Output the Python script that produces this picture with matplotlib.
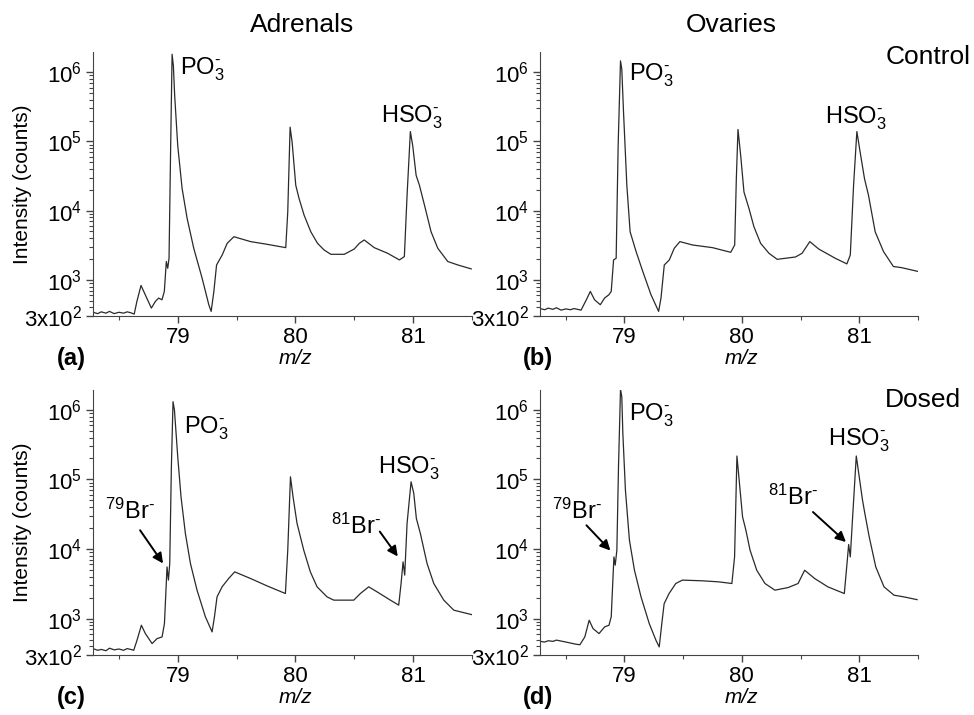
import matplotlib
matplotlib.use("Agg")
import matplotlib.pyplot as plt
from matplotlib.ticker import FixedLocator, LogLocator, NullFormatter, MultipleLocator

plt.rcParams["font.family"] = ["Liberation Sans", "DejaVu Sans"]
plt.rcParams["mathtext.default"] = "regular"

# spectra: m/z and intensity (counts)
mz_adrenal_ctrl = [78.28, 78.32, 78.35, 78.39, 78.42, 78.46, 78.50, 78.54, 78.57, 78.60, 78.63,
                   78.653, 78.688, 78.724, 78.776,
                   78.810, 78.838, 78.866, 78.886, 78.903, 78.915, 78.926, 78.940, 78.952, 78.963,
                   78.974, 79.000, 79.037, 79.080, 79.136, 79.207, 79.264, 79.284, 79.307, 79.330,
                   79.378, 79.420, 79.477, 79.619, 79.761, 79.918, 79.935, 79.955, 79.972, 80.003,
                   80.031, 80.074, 80.131, 80.188, 80.244, 80.301, 80.415, 80.500, 80.543, 80.585,
                   80.670, 80.784, 80.884, 80.926, 80.949, 80.977, 80.997, 81.026, 81.054, 81.097,
                   81.153, 81.210, 81.295, 81.381, 81.494]
counts_adrenal_ctrl = [340, 325, 345, 330, 350, 325, 340, 330, 345, 335, 320,
                       488, 830, 608, 391,
                       488, 545, 515, 680, 1840, 1470, 2050, 87000, 1.82e6, 1.24e6,
                       4.6e5, 8.7e4, 2.1e4, 7700, 2860, 1060, 437, 350, 680, 1640,
                       2290, 3370, 4200, 3570, 3260, 2920, 9600, 1.61e5, 9.8e4, 2.33e4,
                       1.5e4, 8600, 4950, 3370, 2700, 2340, 2340, 2790, 3370, 3770,
                       2920, 2420, 1940, 2170, 1.66e4, 1.39e5, 8.7e4, 3.24e4, 2.33e4, 1.2e4,
                       4950, 2860, 1840, 1640, 1440]

mz_ovary_ctrl = [78.28, 78.32, 78.35, 78.39, 78.42, 78.46, 78.50, 78.54, 78.57, 78.60, 78.63,
                 78.675, 78.709, 78.745, 78.794,
                 78.830, 78.867, 78.887, 78.907, 78.929, 78.946, 78.966, 78.977, 78.992, 79.020,
                 79.048, 79.099, 79.156, 79.226, 79.291, 79.311, 79.339, 79.382, 79.424, 79.472,
                 79.580, 79.750, 79.905, 79.939, 79.953, 79.967, 79.990, 80.018, 80.061, 80.103,
                 80.160, 80.231, 80.301, 80.457, 80.513, 80.579, 80.655, 80.796, 80.895, 80.924,
                 80.952, 80.980, 81.008, 81.045, 81.079, 81.136, 81.207, 81.291, 81.362, 81.503]
counts_ovary_ctrl = [385, 370, 390, 375, 395, 365, 380, 370, 385, 375, 365,
                     515, 680, 515, 437,
                     545, 608, 680, 1940, 2050, 8.7e4, 1.46e6, 1.11e6, 2.6e5, 2.33e4,
                     4950, 2560, 1320, 608, 350, 545, 1640, 1940, 2860, 3570,
                     3190, 2920, 2500, 3190, 2.9e4, 1.49e5, 6.3e4, 1.86e4, 1.07e4, 5850,
                     3370, 2420, 1980, 2140, 2420, 3570, 2790, 2050, 1700, 2290,
                     2.33e4, 1.39e5, 7.0e4, 2.9e4, 1.67e4, 4950, 2560, 1560, 1500, 1320]

mz_adrenal_dosed = [78.28, 78.32, 78.35, 78.39, 78.42, 78.46, 78.50, 78.54, 78.57, 78.60, 78.626,
                    78.654, 78.691, 78.725, 78.782,
                    78.824, 78.867, 78.887, 78.909, 78.921, 78.932, 78.946, 78.960, 78.972, 78.980,
                    79.000, 79.028, 79.065, 79.108, 79.164, 79.235, 79.292, 79.312, 79.334, 79.377,
                    79.433, 79.484, 79.618, 79.759, 79.915, 79.935, 79.958, 79.980, 80.014, 80.071,
                    80.127, 80.184, 80.269, 80.326, 80.496, 80.552, 80.623, 80.694, 80.807, 80.878,
                    80.898, 80.915, 80.929, 80.949, 80.983, 81.006, 81.028, 81.062, 81.119, 81.176,
                    81.261, 81.346, 81.516]
counts_adrenal_dosed = [370, 350, 360, 345, 375, 355, 365, 350, 370, 360, 350,
                        488, 802, 608, 437,
                        515, 545, 847, 5530, 3570, 6180, 1.52e5, 1.31e6, 9.95e5, 6.4e5,
                        2.12e5, 5.6e4, 1.67e4, 6180, 2560, 1060, 643, 1060, 2050, 2860,
                        3770, 4690, 3770, 2950, 2290, 9600, 1.09e5, 5.6e4, 2.33e4, 9600,
                        4690, 2860, 2050, 1840, 1840, 2290, 2860, 2420, 1840, 1560,
                        3190, 6530, 4210, 2.33e4, 9.25e4, 6.3e4, 2.75e4, 1.67e4, 6180, 3190,
                        1840, 1320, 1120]

mz_ovary_dosed = [78.28, 78.32, 78.35, 78.39, 78.42, 78.46, 78.50, 78.54, 78.58, 78.60, 78.62,
                  78.662, 78.699, 78.732, 78.783,
                  78.831, 78.868, 78.887, 78.910, 78.921, 78.935, 78.949, 78.966, 78.977, 78.986,
                  79.008, 79.042, 79.085, 79.141, 79.211, 79.268, 79.296, 79.318, 79.338, 79.380,
                  79.437, 79.493, 79.662, 79.803, 79.915, 79.938, 79.958, 79.977, 80.006, 80.034,
                  80.070, 80.127, 80.197, 80.282, 80.394, 80.479, 80.535, 80.620, 80.732, 80.873,
                  80.896, 80.910, 80.924, 80.944, 80.975, 81.000, 81.028, 81.048, 81.085, 81.141,
                  81.211, 81.296, 81.380, 81.493]
counts_ovary_dosed = [470, 460, 480, 470, 490, 475, 460, 445, 430, 425, 420,
                      545, 946, 718, 608,
                      759, 802, 1060, 7700, 5850, 9600, 1.52e5, 1.97e6, 1.55e6, 4.6e5,
                      7.0e4, 1.34e4, 4950, 2050, 847, 488, 391, 847, 1640, 2290,
                      3190, 3570, 3490, 3370, 3190, 7700, 2.17e5, 9.8e4, 2.9e4, 1.87e4,
                      9600, 4950, 3190, 2560, 2790, 3190, 4950, 3770, 2860, 2290,
                      6180, 1.16e4, 7700, 2.9e4, 2.17e5, 1.09e5, 5.05e4, 3.24e4, 1.5e4, 5530,
                      2860, 2170, 2050, 1870]

y_ticks = [300, 1e3, 1e4, 1e5, 1e6]
y_tick_labels = ["3x10$^2$", "10$^3$", "10$^4$", "10$^5$", "10$^6$"]
x_ticks = [79, 80, 81]

LINE_COLOR = "#2a2a2a"
LABEL_SIZE = 17
PO3 = "PO$_3^{\u2010}$"
HSO3 = "HSO$_3^{\u2010}$"


def setup_panel(ax, mz, counts, show_ylabel):
    ax.plot(mz, counts, color=LINE_COLOR, lw=0.9)
    ax.set_yscale("log")
    ax.set_xlim(78.28, 81.5)
    ax.set_ylim(300, 1.95e6)
    ax.spines["top"].set_visible(False)
    ax.spines["right"].set_visible(False)
    ax.spines["left"].set_color("#444444")
    ax.spines["bottom"].set_color("#444444")
    ax.yaxis.set_major_locator(FixedLocator(y_ticks))
    ax.set_yticklabels(y_tick_labels)
    ax.yaxis.set_minor_locator(LogLocator(base=10, subs=range(2, 10)))
    ax.yaxis.set_minor_formatter(NullFormatter())
    ax.set_xticks(x_ticks)
    ax.set_xticklabels([str(t) for t in x_ticks])
    ax.xaxis.set_minor_locator(MultipleLocator(0.5))
    ax.tick_params(which="major", direction="out", length=5, width=1,
                   labelsize=16, color="#444444", pad=3)
    ax.tick_params(which="minor", direction="out", length=3, width=0.8,
                   color="#444444")
    if show_ylabel:
        ax.set_ylabel("Intensity (counts)", fontsize=15)
        ax.yaxis.set_label_coords(-0.16, 0.5)
    return ax


fig = plt.figure(figsize=(9.74, 7.15), dpi=100)
ax_a = fig.add_axes([0.0955, 0.558, 0.389, 0.369])
ax_b = fig.add_axes([0.5544, 0.558, 0.388, 0.369])
ax_c = fig.add_axes([0.0955, 0.084, 0.389, 0.371])
ax_d = fig.add_axes([0.5544, 0.084, 0.388, 0.371])

setup_panel(ax_a, mz_adrenal_ctrl, counts_adrenal_ctrl, True)
setup_panel(ax_b, mz_ovary_ctrl, counts_ovary_ctrl, False)
setup_panel(ax_c, mz_adrenal_dosed, counts_adrenal_dosed, True)
setup_panel(ax_d, mz_ovary_dosed, counts_ovary_dosed, False)

# ion labels
ax_a.text(79.02, 9.4e5, PO3, fontsize=LABEL_SIZE, va="baseline")
ax_a.text(80.727, 1.87e5, HSO3, fontsize=LABEL_SIZE, va="baseline")
ax_b.text(79.04, 7.5e5, PO3, fontsize=LABEL_SIZE, va="baseline")
ax_b.text(80.711, 1.8e5, HSO3, fontsize=LABEL_SIZE, va="baseline")
ax_c.text(79.057, 4.6e5, PO3, fontsize=LABEL_SIZE, va="baseline")
ax_c.text(80.70, 1.22e5, HSO3, fontsize=LABEL_SIZE, va="baseline")
ax_d.text(79.042, 7.1e5, PO3, fontsize=LABEL_SIZE, va="baseline")
ax_d.text(80.732, 3.1e5, HSO3, fontsize=LABEL_SIZE, va="baseline")

# bromide labels with arrows
arrow = dict(arrowstyle="-|>", color="black", lw=1.4, mutation_scale=15,
             shrinkA=0, shrinkB=0)
ax_c.text(78.385, 2.75e4, "$^{79}$Br$^{\u2010}$", fontsize=LABEL_SIZE, va="baseline")
ax_c.annotate("", xy=(78.875, 6.2e3), xytext=(78.68, 1.86e4), arrowprops=arrow)
ax_c.text(80.303, 1.67e4, "$^{81}$Br$^{\u2010}$", fontsize=LABEL_SIZE, va="baseline")
ax_c.annotate("", xy=(80.87, 7.8e3), xytext=(80.717, 1.78e4), arrowprops=arrow)
ax_d.text(78.38, 2.75e4, "$^{79}$Br$^{\u2010}$", fontsize=LABEL_SIZE, va="baseline")
ax_d.annotate("", xy=(78.88, 9.5e3), xytext=(78.676, 2.19e4), arrowprops=arrow)
ax_d.text(80.225, 4.3e4, "$^{81}$Br$^{\u2010}$", fontsize=LABEL_SIZE, va="baseline")
ax_d.annotate("", xy=(80.887, 1.26e4), xytext=(80.606, 3.4e4), arrowprops=arrow)

# column / row headings
fig.text(0.310, 0.965, "Adrenals", fontsize=19, ha="center", va="center")
fig.text(0.751, 0.965, "Ovaries", fontsize=19, ha="center", va="center")
fig.text(0.909, 0.920, "Control", fontsize=19, ha="left", va="center")
fig.text(0.909, 0.441, "Dosed", fontsize=19, ha="left", va="center")

# panel letters and x labels
for x, y, letter in [(0.058, 0.499, "(a)"), (0.537, 0.499, "(b)"),
                     (0.058, 0.025, "(c)"), (0.537, 0.025, "(d)")]:
    fig.text(x, y, letter, fontsize=17, fontweight="bold", ha="left", va="center")
for x, y in [(0.303, 0.499), (0.761, 0.499), (0.303, 0.025), (0.761, 0.025)]:
    fig.text(x, y, "m/z", fontsize=15, style="italic", ha="center", va="center")

fig.savefig("out.png", dpi=100)
